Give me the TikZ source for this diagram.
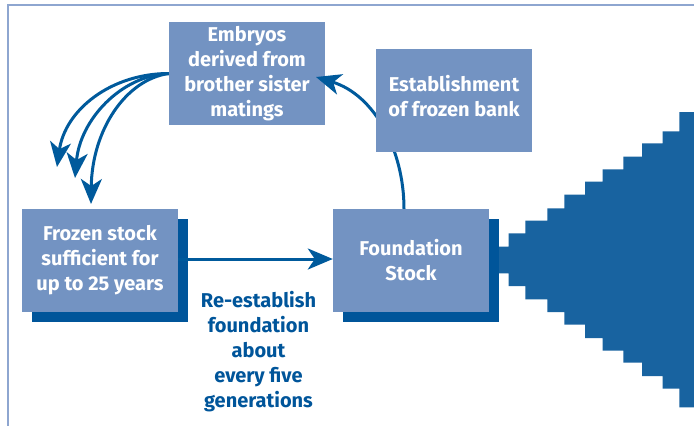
\documentclass[tikz,border=0pt]{standalone}
\usepackage{fontspec}
\setmainfont{Fira Sans}
\usetikzlibrary{arrows.meta,shadows}

\definecolor{boxblue}{HTML}{7393C2}
\definecolor{shadeblue}{HTML}{00559A}
\definecolor{arrowblue}{HTML}{005A9C}
\definecolor{stairblue}{HTML}{1863A0}
\definecolor{frameblue}{HTML}{8EA6D0}

\tikzset{
  stepbox/.style={fill=boxblue, draw=none, minimum width=156pt, minimum height=103pt,
    inner sep=0pt, text=white, align=center,
    font=\bfseries\fontsize{20}{25}\selectfont},
  shadowed/.style={general shadow={fill=shadeblue, shadow xshift=9.5pt, shadow yshift=-10pt}},
  flow/.style={draw=arrowblue, line width=3pt,
    -{Stealth[length=25pt, width=21pt, inset=7pt]}},
  note/.style={text=shadeblue, align=center, font=\bfseries\fontsize{20}{25}\selectfont}
}

\begin{document}
\begin{tikzpicture}[x=1pt, y=-1pt]
  \useasboundingbox (0,0) rectangle (694,426);

  % frame along the top and left edges
  \draw[frameblue, line width=2pt] (8.3,426) -- (8.3,5) -- (694,5);

  % widening staircase on the right
  \fill[stairblue]
    (495,246.7) -- (508.7,246.7) -- (508.7,233.3) -- (525.3,233.3) -- (525.3,220.7)
    -- (547.3,220.7) -- (547.3,208.3) -- (564.3,208.3) -- (564.3,194.7) -- (585,194.7)
    -- (585,181.7) -- (602.7,181.7) -- (602.7,169.3) -- (623.3,169.3) -- (623.3,156.7)
    -- (642,156.7) -- (642,143.3) -- (662.7,143.3) -- (662.7,131.3) -- (679.3,131.3)
    -- (679.3,112) -- (694,112) -- (694,407.3) -- (679.3,407.3) -- (679.3,388.7)
    -- (662.7,388.7) -- (662.7,376) -- (642,376) -- (642,362.7) -- (623.3,362.7)
    -- (623.3,350.7) -- (602.7,350.7) -- (602.7,338) -- (585,338) -- (585,324.7)
    -- (564.3,324.7) -- (564.3,312) -- (547.3,312) -- (547.3,299.3) -- (525.3,299.3)
    -- (525.3,286) -- (508.7,286) -- (508.7,273.3) -- (495,273.3) -- cycle;

  % boxes
  \node[stepbox] (emb) at (247,73.5) {Embryos\\derived from\\brother sister\\matings};
  \node[stepbox, shadowed] (froz) at (100,260.5) {Frozen stock\\sufficient for\\up to 25 years};
  \node[stepbox, shadowed] (found) at (411,260.5) {Foundation\\Stock};

  % arrow ends
  \coordinate (embtip) at (316,77);
  \coordinate (t1) at (57,167);
  \coordinate (t2) at (75,178);
  \coordinate (t3) at (91,204);

  % connectors
  \draw[flow] ([yshift=1.5pt]froz.east) -- ([yshift=1.5pt]found.west);
  \draw[flow] ([xshift=-7pt]found.north) .. controls +(0,-58) and +(59,18) .. (embtip);
  \draw[flow] (emb.west) .. controls +(-58,0) and +(8,-57) .. (t1);
  \draw[flow] (emb.west) .. controls +(-48,2) and +(5,-58) .. (t2);
  \draw[flow] (emb.west) .. controls +(-43,6) and +(1,-74) .. (t3);

  % bank box sits over the return arrow
  \node[stepbox] (est) at (454,100.5) {};
  \node[stepbox, fill=none, minimum width=0pt, minimum height=0pt] (esttext) at (454,96.5) {Establishment\\of frozen bank};

  \node[note] (cycle) at (258.5,351.5) {Re-establish\\foundation\\about\\every five\\generations};
\end{tikzpicture}
\end{document}
